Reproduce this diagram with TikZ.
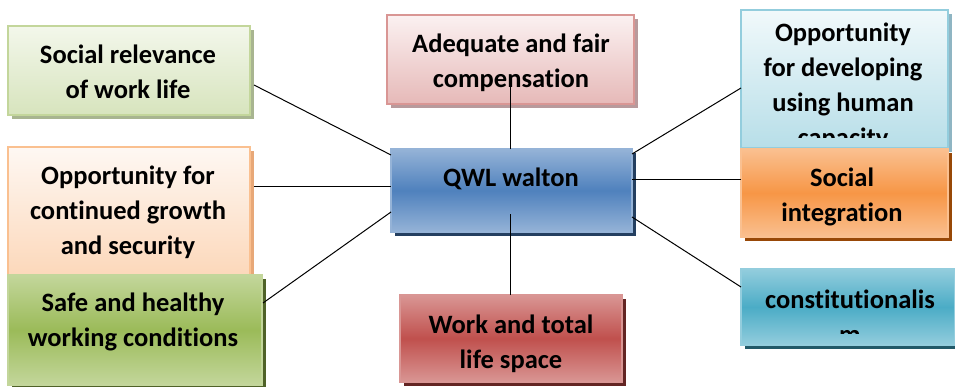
\documentclass[tikz,border=0pt]{standalone}
\usepackage{fontspec}
\setmainfont{Carlito}[Ligatures=NoCommon]
\usetikzlibrary{shadows}
\definecolor{olA}{HTML}{9BBB59}\definecolor{olB}{HTML}{C3D69B}\definecolor{olC}{HTML}{D7E4BD}
\definecolor{rdA}{HTML}{C0504D}\definecolor{rdB}{HTML}{D99694}\definecolor{rdC}{HTML}{E6B9B8}
\definecolor{aqA}{HTML}{4BACC6}\definecolor{aqB}{HTML}{93CDDD}\definecolor{aqC}{HTML}{B7DEE8}
\definecolor{orA}{HTML}{F79646}\definecolor{orB}{HTML}{FAC090}\definecolor{orC}{HTML}{FCD5B5}
\definecolor{blA}{HTML}{4F81BD}\definecolor{blB}{HTML}{95B3D7}
\definecolor{shOl}{HTML}{A8B590}\definecolor{shRd}{HTML}{B89A9C}\definecolor{shAq}{HTML}{8FB5C3}
\definecolor{shOr}{HTML}{E8A878}\definecolor{shOlD}{HTML}{4F6228}\definecolor{shBl}{HTML}{243F60}
\definecolor{shRdD}{HTML}{632523}\definecolor{shOrD}{HTML}{984807}\definecolor{shAqD}{HTML}{215968}
\definecolor{ltOl}{HTML}{F3F7EB}\definecolor{ltRd}{HTML}{FBF1F1}\definecolor{ltAq}{HTML}{F1F9FB}\definecolor{ltOr}{HTML}{FEF8F3}
\tikzset{
  box/.style={rectangle, line width=1.6pt, inner sep=0pt},
  shad/.style={drop shadow={shadow xshift=4pt, shadow yshift=-4pt, fill=#1, opacity=1}},
  light/.style n args={3}{box, draw=#1, top color=#3, bottom color=#2},
  dark/.style 2 args={box, draw=#1, top color=#1, bottom color=#1, middle color=#2},
  txt/.style={inner sep=0pt, align=center, anchor=north, font=\fontsize{26.5}{35}\selectfont\bfseries},
  conn/.style={draw=black, line width=1pt}
}
\begin{document}
\begin{tikzpicture}[x=1pt, y=-1pt]
\useasboundingbox (0,0) rectangle (955,387);
% left column
\node[light={olB}{olC}{ltOl}, shad=shOl, minimum width=242pt, minimum height=89pt] (b1) at (129,70.5) {};
\node[txt] (t1) at (128,45) {Social relevance\\of work life};
\node[light={orB}{orC}{ltOr}, shad=shOr, minimum width=242pt, minimum height=140pt] (b4) at (129,217) {};
\node[txt] (t4) at (128,165.5) {Opportunity for\\continued growth\\and security};
\node[dark={olB}{olA}, shad=shOlD, minimum width=254pt, minimum height=110pt] (b5) at (135,330) {};
\node[txt] (t5) at (133,293) {Safe and healthy\\working conditions};
% middle column
\node[light={rdB}{rdC}{ltRd}, shad=shRd, minimum width=247pt, minimum height=89pt] (b2) at (510.5,59.5) {};
\node[txt] (t2) at (511,34) {Adequate and fair\\compensation};
\node[dark={blB}{blA}, shad=shBl, minimum width=241pt, minimum height=83pt] (c) at (511.5,190.5) {};
\node[txt] (tc) at (511,167.5) {QWL walton};
\node[dark={rdB}{rdA}, shad=shRdD, minimum width=222pt, minimum height=87pt] (b6) at (511,338.5) {};
\node[txt] (t6) at (511,315) {Work and total\\life space};
% right column
\node[light={aqB}{aqC}{ltAq}, shad=shAq, minimum width=207pt, minimum height=138pt] (b3) at (844.5,79) {};
\begin{scope}
\clip (743,12) rectangle (946,137.5);
\node[txt] (t3) at (843,23) {Opportunity\\for developing\\using human\\capacity};
\end{scope}
\node[dark={orB}{orA}, shad=shOrD, minimum width=207pt, minimum height=88pt] (b7) at (844.5,193) {};
\node[txt] (t7) at (842,167.5) {Social\\integration};
\node[dark={aqB}{aqA}, shad=shAqD, minimum width=214pt, minimum height=76pt] (b8) at (848,307) {};
\begin{scope}
\clip (743,271) rectangle (953,333);
\node[txt] (t8) at (850,289.5) {constitutionalis\\m};
\end{scope}
% connector end points
\coordinate (p1) at (254,85);
\coordinate (q1) at (391,155);
\coordinate (p2) at (510,82);
\coordinate (q2) at (510,149);
\coordinate (p3) at (741,88);
\coordinate (q3) at (632,154);
\coordinate (p4) at (254,187);
\coordinate (q4) at (391,187);
\coordinate (p5) at (263,303);
\coordinate (q5) at (391,212);
\coordinate (p6) at (510,295);
\coordinate (q6) at (510,214);
\coordinate (p7) at (741,180);
\coordinate (q7) at (632,180);
\coordinate (p8) at (741,287);
\coordinate (q8) at (632,217);
\draw[conn] (p1) -- (q1);
\draw[conn] (p2) -- (q2);
\draw[conn] (p3) -- (q3);
\draw[conn] (p4) -- (q4);
\draw[conn] (p5) -- (q5);
\draw[conn] (p6) -- (q6);
\draw[conn] (p7) -- (q7);
\draw[conn] (p8) -- (q8);
\end{tikzpicture}
\end{document}
